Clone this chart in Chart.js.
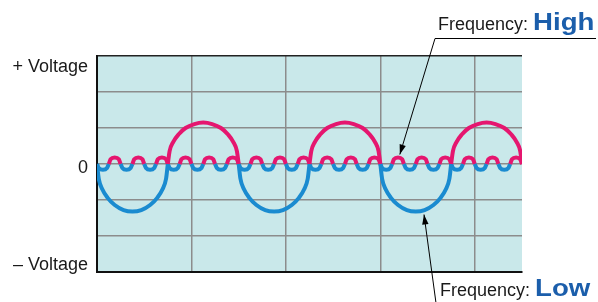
<!DOCTYPE html>
<html>
<head>
<meta charset="utf-8">
<script src="https://cdn.jsdelivr.net/npm/chart.js"></script>
<style>
  html, body { margin: 0; padding: 0; background: #fff; }
  #wrap { width: 598px; height: 302px; position: relative; }
</style>
</head>
<body>
<div id="wrap"><canvas id="theChart"></canvas></div>
<script>
// time axis: one small ripple hump = 20 units, one big half wave = 120 units
const rippleTime = [
  0, 3, 10, 17, 20, 23, 30, 37, 40, 43, 50, 57, 60, 63, 70, 77, 80, 83, 90, 97, 100, 103, 110, 117,
  120, 123, 130, 137, 140, 143, 150, 157, 160, 163, 170, 177, 180, 183, 190, 197, 200, 203, 210, 217, 220, 223, 230, 237,
  240, 243, 250, 257, 260, 263, 270, 277, 280, 283, 290, 297, 300, 303, 310, 317, 320, 323, 330, 337, 340, 343, 350, 357,
  360, 363, 370, 377, 380, 383, 390, 397, 400, 403, 410, 417, 420, 423, 430, 437, 440, 443, 450, 457, 460, 463, 470, 477,
  480, 483, 490, 497, 500, 503, 510, 517, 520, 523, 530, 537, 540, 543, 550, 557, 560, 563, 570, 577, 580, 583, 590, 597,
  600, 603, 610, 617, 620, 623, 630, 637, 640, 643, 650, 657, 660, 663, 670, 677, 680, 683, 690, 697, 700, 703, 710, 717,
  720
];

// fast ripple (Frequency: High)
const highWave = [
  0, -0.11, -0.16, -0.11, 0, 0.13, 0.18, 0.13,  0, -0.11, -0.16, -0.11, 0, 0.13, 0.18, 0.13,  0, -0.11, -0.16, -0.11, 0, 0.13, 0.18, 0.13,
  0, -0.11, -0.16, -0.11, 0, 0.13, 0.18, 0.13,  0, -0.11, -0.16, -0.11, 0, 0.13, 0.18, 0.13,  0, -0.11, -0.16, -0.11, 0, 0.13, 0.18, 0.13,
  0, -0.11, -0.16, -0.11, 0, 0.13, 0.18, 0.13,  0, -0.11, -0.16, -0.11, 0, 0.13, 0.18, 0.13,  0, -0.11, -0.16, -0.11, 0, 0.13, 0.18, 0.13,
  0, -0.11, -0.16, -0.11, 0, 0.13, 0.18, 0.13,  0, -0.11, -0.16, -0.11, 0, 0.13, 0.18, 0.13,  0, -0.11, -0.16, -0.11, 0, 0.13, 0.18, 0.13,
  0, -0.11, -0.16, -0.11, 0, 0.13, 0.18, 0.13,  0, -0.11, -0.16, -0.11, 0, 0.13, 0.18, 0.13,  0, -0.11, -0.16, -0.11, 0, 0.13, 0.18, 0.13,
  0, -0.11, -0.16, -0.11, 0, 0.13, 0.18, 0.13,  0, -0.11, -0.16, -0.11, 0, 0.13, 0.18, 0.13,  0, -0.11, -0.16, -0.11, 0, 0.13, 0.18, 0.13,
  0
];

const lowTime = [
  0, 3, 9, 18, 30, 45, 60, 75, 90, 102, 111, 117,
  120, 123, 129, 138, 150, 165, 180, 195, 210, 222, 231, 237,
  240, 243, 249, 258, 270, 285, 300, 315, 330, 342, 351, 357,
  360, 363, 369, 378, 390, 405, 420, 435, 450, 462, 471, 477,
  480, 483, 489, 498, 510, 525, 540, 555, 570, 582, 591, 597,
  600, 603, 609, 618, 630, 645, 660, 675, 690, 702, 711, 717,
  720
];

// slow wave (Frequency: Low)
const lowWave = [
  0, -0.41, -0.70, -0.94, -1.14, -1.28, -1.32, -1.28, -1.14, -0.94, -0.70, -0.41,
  0, 0.36, 0.61, 0.82, 1.00, 1.11, 1.15, 1.11, 1.00, 0.82, 0.61, 0.36,
  0, -0.41, -0.70, -0.94, -1.14, -1.28, -1.32, -1.28, -1.14, -0.94, -0.70, -0.41,
  0, 0.36, 0.61, 0.82, 1.00, 1.11, 1.15, 1.11, 1.00, 0.82, 0.61, 0.36,
  0, -0.41, -0.70, -0.94, -1.14, -1.28, -1.32, -1.28, -1.14, -0.94, -0.70, -0.41,
  0, 0.36, 0.61, 0.82, 1.00, 1.11, 1.15, 1.11, 1.00, 0.82, 0.61, 0.36,
  0
];

const yLabels = ['+ Voltage', '0', '\u2013 Voltage'];
const yLabelValues = [3, 0, -3];

const PINK = '#e5166f';
const BLUE = '#1a8bd0';
const FONT = '"Liberation Sans", Arial, sans-serif';

function points(ts, ys) {
  return ys.map((v, i) => ({ x: ts[i], y: v }));
}

function bySign(c) {
  return (c.p0.parsed.y + c.p1.parsed.y) >= 0 ? PINK : BLUE;
}

function arrow(ctx, x0, y0, x1, y1) {
  ctx.beginPath();
  ctx.moveTo(x0, y0);
  ctx.lineTo(x1, y1);
  ctx.stroke();
  const a = Math.atan2(y1 - y0, x1 - x0);
  const len = 10, half = 3.2;
  ctx.beginPath();
  ctx.moveTo(x1, y1);
  ctx.lineTo(x1 - len * Math.cos(a) + half * Math.sin(a), y1 - len * Math.sin(a) - half * Math.cos(a));
  ctx.lineTo(x1 - len * Math.cos(a) - half * Math.sin(a), y1 - len * Math.sin(a) + half * Math.cos(a));
  ctx.closePath();
  ctx.fill();
}

function caption(ctx, x, y, word) {
  ctx.font = '18px ' + FONT;
  ctx.fillStyle = '#1a1a1a';
  ctx.textAlign = 'left';
  ctx.textBaseline = 'alphabetic';
  ctx.fillText('Frequency:', x, y);
  const w = ctx.measureText('Frequency: ').width;
  ctx.save();
  ctx.translate(x + w, y);
  ctx.scale(1.15, 1);
  ctx.font = 'bold 24px ' + FONT;
  ctx.fillStyle = '#1b5eab';
  ctx.fillText(word, 0, 0);
  ctx.restore();
}

const paper = {
  id: 'paper',
  beforeDraw(chart) {
    const { ctx, chartArea: a } = chart;
    ctx.save();
    ctx.fillStyle = '#c9e8ea';
    ctx.fillRect(a.left, a.top, a.right - a.left, a.bottom - a.top);
    ctx.restore();
  },
  afterDraw(chart) {
    const { ctx, chartArea: a, scales } = chart;
    const xs = scales.x, ys = scales.y;
    ctx.save();

    // axis texts
    const shift = [11, 4, -7];
    ctx.font = '18px ' + FONT;
    ctx.fillStyle = '#1a1a1a';
    ctx.textAlign = 'right';
    ctx.textBaseline = 'middle';
    yLabels.forEach((t, i) => {
      ctx.fillText(t, a.left - 9, ys.getPixelForValue(yLabelValues[i]) + shift[i]);
    });

    // annotations
    ctx.strokeStyle = '#000';
    ctx.fillStyle = '#000';
    ctx.lineWidth = 1;
    ctx.beginPath();
    ctx.moveTo(435, 38.5);
    ctx.lineTo(596, 38.5);
    ctx.stroke();
    arrow(ctx, 435, 38.5, xs.getPixelForValue(513), ys.getPixelForValue(0.18) - 3);
    arrow(ctx, 436, 303, xs.getPixelForValue(554), ys.getPixelForValue(-1.32) + 3);

    caption(ctx, 438, 30, 'High');
    caption(ctx, 440, 296, 'Low');
    ctx.restore();
  }
};

const chart = document.getElementById('theChart').getContext('2d');
new Chart(chart, {
  type: 'line',
  data: {
    datasets: [{
      label: 'Low',
      data: points(lowTime, lowWave),
      borderColor: PINK,
      borderWidth: 4,
      cubicInterpolationMode: 'monotone',
      pointRadius: 0,
      fill: false,
      segment: { borderColor: bySign }
    }, {
      label: 'High',
      data: points(rippleTime, highWave),
      borderColor: PINK,
      borderWidth: 4,
      cubicInterpolationMode: 'monotone',
      pointRadius: 0,
      fill: false,
      segment: { borderColor: bySign }
    }]
  },
  options: {
    responsive: true,
    maintainAspectRatio: false,
    animation: false,
    layout: { padding: { left: 97, right: 76, top: 56, bottom: 30 } },
    plugins: { legend: { display: false }, tooltip: { enabled: false } },
    scales: {
      x: {
        type: 'linear',
        min: 0,
        max: 720,
        ticks: { display: false, stepSize: 160, includeBounds: false },
        grid: { color: '#8c8c8c', lineWidth: 1.5, drawTicks: false },
        border: { color: '#111', width: 2 }
      },
      y: {
        min: -3,
        max: 3,
        ticks: { display: false, stepSize: 1 },
        grid: {
          color: c => c.tick && c.tick.value === 3 ? '#222' : '#8c8c8c',
          lineWidth: 1.5,
          drawTicks: false
        },
        border: { color: '#111', width: 2 }
      }
    }
  },
  plugins: [paper]
});
</script>
</body>
</html>
